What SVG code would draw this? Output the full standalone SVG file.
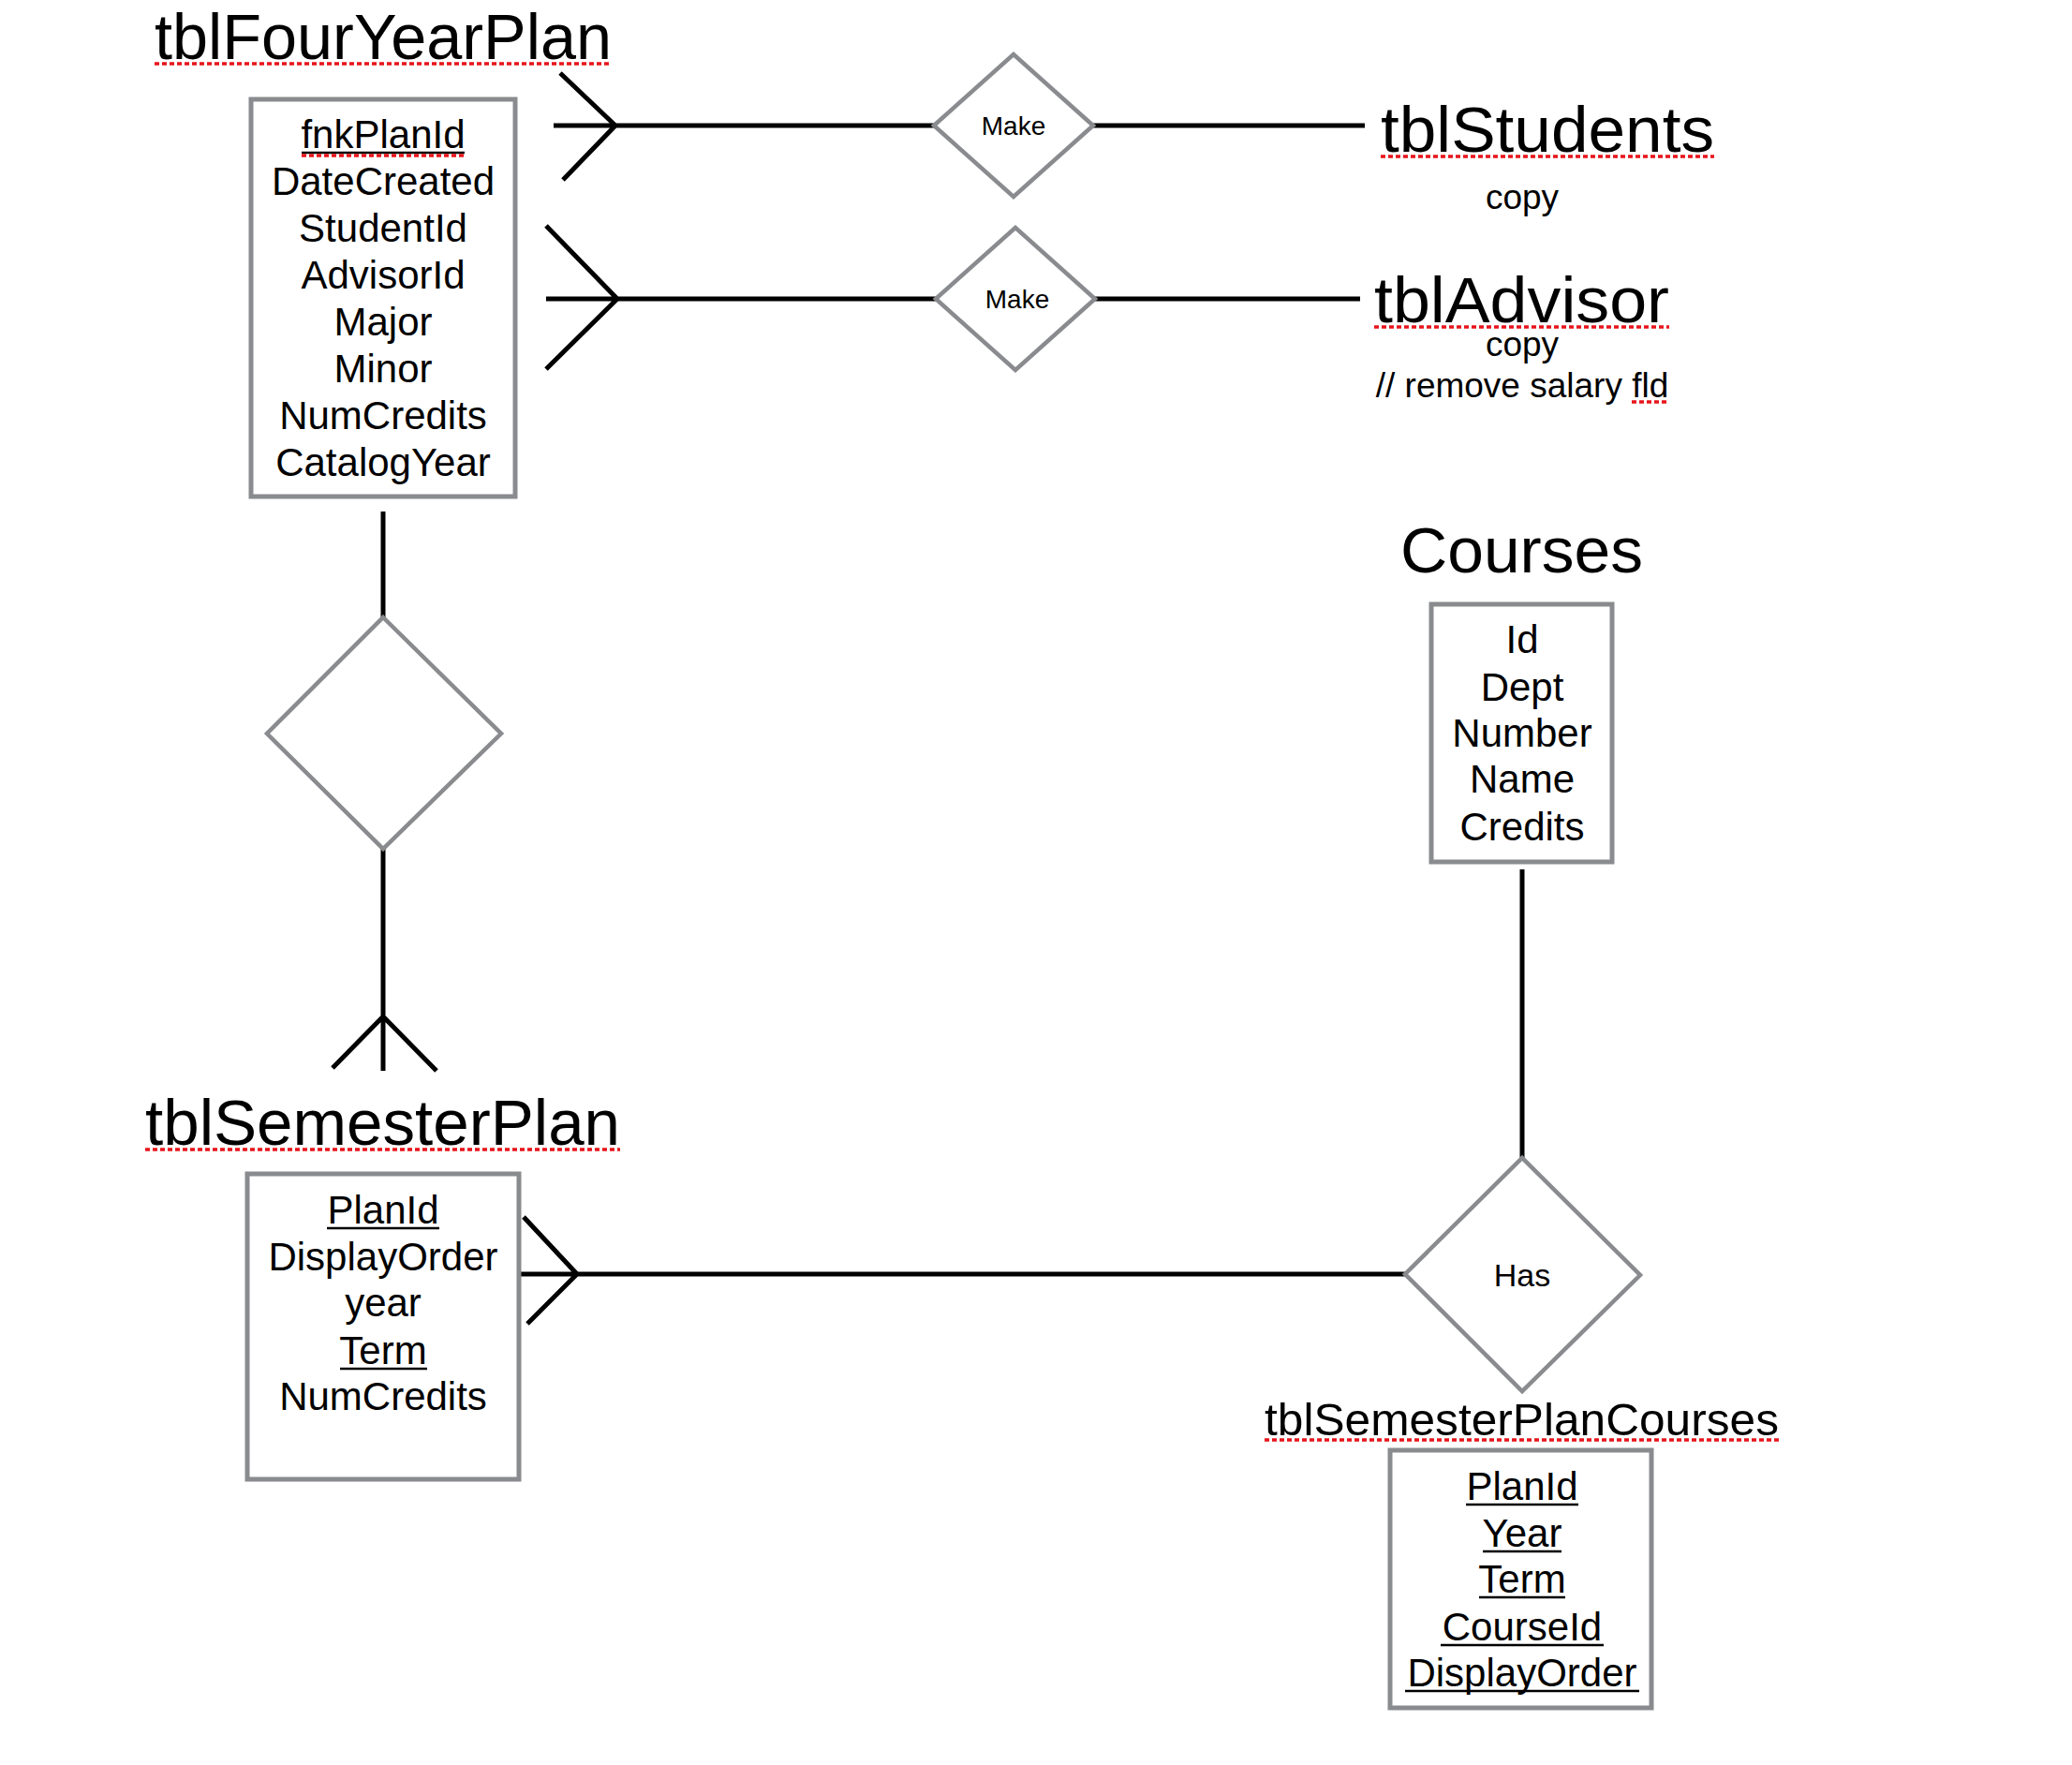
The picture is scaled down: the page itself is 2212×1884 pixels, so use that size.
<svg xmlns="http://www.w3.org/2000/svg" width="2212" height="1884" viewBox="0 0 2212 1884">
<style>
text{font-family:"Liberation Sans",Arial,sans-serif;fill:#000}
.title{font-size:69px}
.fld{font-size:42px;text-anchor:middle}
.note{font-size:37px;text-anchor:middle}
.rel{font-size:28px;text-anchor:middle}
.box{fill:#fff;stroke:#898b8e;stroke-width:5}
.dia{fill:#fff;stroke:#898b8e;stroke-width:4.5}
.ln{fill:none;stroke:#000;stroke-width:5}
.ul{stroke:#000;stroke-width:2.5}
.sp{stroke:#e8141b;stroke-width:3.5;stroke-dasharray:5 3}
</style>
<rect width="2212" height="1884" fill="#fff"/>
<g id="connectors">
  <path class="ln" d="M591 134H997 M598 78L657 134L601 192"/>
  <path class="ln" d="M1167 134H1457"/>
  <path class="ln" d="M583 319H999 M583 241L659 319L583 394"/>
  <path class="ln" d="M1169 319H1452"/>
  <path class="ln" d="M409 546V663"/>
  <path class="ln" d="M409 900V1143 M355 1140L409 1085L466 1143"/>
  <path class="ln" d="M554 1360H1500 M559 1299L616 1360L563 1413"/>
  <path class="ln" d="M1625 928V1238"/>
</g>
<g id="tblFourYearPlan">
  <text class="title" x="165" y="63" textLength="488" lengthAdjust="spacingAndGlyphs">tblFourYearPlan</text>
  <line class="sp" x1="165" y1="68" x2="653" y2="68"/>
  <rect class="box" x="268" y="106" width="282" height="424"/>
  <text class="fld" x="409" y="158">fnkPlanId</text>
  <line class="ul" x1="322" y1="163" x2="496" y2="163"/>
  <line class="sp" x1="322" y1="166" x2="496" y2="166"/>
  <text class="fld" x="409" y="208">DateCreated</text>
  <text class="fld" x="409" y="258">StudentId</text>
  <text class="fld" x="409" y="308">AdvisorId</text>
  <text class="fld" x="409" y="358">Major</text>
  <text class="fld" x="409" y="408">Minor</text>
  <text class="fld" x="409" y="458">NumCredits</text>
  <text class="fld" x="409" y="508">CatalogYear</text>
</g>
<g id="make1">
  <polygon class="dia" points="997,134 1082,58 1167,134 1082,210"/>
  <text class="rel" x="1082" y="144">Make</text>
</g>
<g id="tblStudents">
  <text class="title" x="1474" y="162" textLength="356" lengthAdjust="spacingAndGlyphs">tblStudents</text>
  <line class="sp" x1="1474" y1="167" x2="1830" y2="167"/>
  <text class="note" x="1625" y="223">copy</text>
</g>
<g id="make2">
  <polygon class="dia" points="999,319 1084,243 1169,319 1084,395"/>
  <text class="rel" x="1086" y="329">Make</text>
</g>
<g id="tblAdvisor">
  <text class="title" x="1467" y="344" textLength="315" lengthAdjust="spacingAndGlyphs">tblAdvisor</text>
  <line class="sp" x1="1467" y1="349" x2="1782" y2="349"/>
  <text class="note" x="1625" y="380">copy</text>
  <text class="note" x="1625" y="424">// remove salary fld</text>
  <line class="sp" x1="1742" y1="429" x2="1782" y2="429"/>
</g>
<g id="rel3">
  <polygon class="dia" points="409,659 535,783 409,906 285,783"/>
</g>
<g id="tblSemesterPlan">
  <text class="title" x="155" y="1222" textLength="507" lengthAdjust="spacingAndGlyphs">tblSemesterPlan</text>
  <line class="sp" x1="155" y1="1227" x2="662" y2="1227"/>
  <rect class="box" x="264" y="1253" width="290" height="326"/>
  <text class="fld" x="409" y="1306">PlanId</text>
  <line class="ul" x1="349" y1="1311" x2="469" y2="1311"/>
  <text class="fld" x="409" y="1356">DisplayOrder</text>
  <text class="fld" x="409" y="1405">year</text>
  <text class="fld" x="409" y="1456">Term</text>
  <line class="ul" x1="363" y1="1461" x2="456" y2="1461"/>
  <text class="fld" x="409" y="1505">NumCredits</text>
</g>
<g id="Courses">
  <text class="title" x="1495" y="611" textLength="259" lengthAdjust="spacingAndGlyphs">Courses</text>
  <rect class="box" x="1528" y="645" width="193" height="275"/>
  <text class="fld" x="1625" y="697">Id</text>
  <text class="fld" x="1625" y="748">Dept</text>
  <text class="fld" x="1625" y="797">Number</text>
  <text class="fld" x="1625" y="846">Name</text>
  <text class="fld" x="1625" y="897">Credits</text>
</g>
<g id="has">
  <polygon class="dia" points="1500,1360 1625,1236 1751,1361 1625,1485"/>
  <text x="1625" y="1373" style="font-size:34px;text-anchor:middle">Has</text>
</g>
<g id="tblSemesterPlanCourses">
  <text x="1350" y="1532" style="font-size:49px" textLength="549" lengthAdjust="spacingAndGlyphs">tblSemesterPlanCourses</text>
  <line class="sp" x1="1350" y1="1537" x2="1899" y2="1537"/>
  <rect class="box" x="1484" y="1548" width="279" height="275"/>
  <text class="fld" x="1625" y="1601">PlanId</text>
  <line class="ul" x1="1565" y1="1606" x2="1685" y2="1606"/>
  <text class="fld" x="1625" y="1651">Year</text>
  <line class="ul" x1="1583" y1="1656" x2="1667" y2="1656"/>
  <text class="fld" x="1625" y="1700">Term</text>
  <line class="ul" x1="1579" y1="1705" x2="1671" y2="1705"/>
  <text class="fld" x="1625" y="1751">CourseId</text>
  <line class="ul" x1="1538" y1="1756" x2="1712" y2="1756"/>
  <text class="fld" x="1625" y="1800">DisplayOrder</text>
  <line class="ul" x1="1500" y1="1805" x2="1750" y2="1805"/>
</g>
</svg>
